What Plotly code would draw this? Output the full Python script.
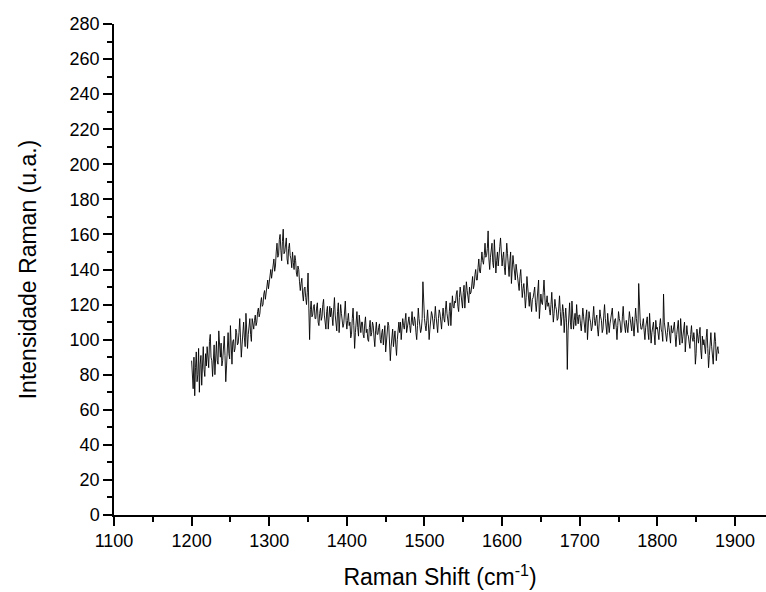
import plotly.graph_objects as go

x_start = 1200
x_step = 1
intensity = [
    88, 82, 72, 90, 68, 84, 93, 76, 80, 95, 70, 86, 91, 74, 88, 96, 83, 79, 92, 85,
    96, 87, 84, 99, 103, 90, 88, 79, 92, 97, 80, 94, 99, 88, 86, 105, 93, 90, 98, 85,
    88, 97, 102, 91, 76, 85, 97, 104, 92, 89, 108, 95, 86, 99, 100, 93, 95, 106, 104, 97,
    98, 104, 112, 101, 90, 97, 106, 110, 101, 96, 115, 104, 95, 103, 108, 112, 103, 99, 112, 107,
    106, 111, 114, 108, 110, 116, 118, 113, 115, 121, 124, 119, 120, 126, 128, 123, 126, 131, 134, 129,
    132, 137, 140, 135, 138, 143, 146, 139, 142, 150, 155, 147, 148, 157, 160, 151, 145, 156, 163, 149,
    150, 154, 158, 146, 143, 152, 155, 148, 146, 141, 150, 144, 140, 148, 145, 138, 136, 142, 140, 133,
    128, 132, 135, 126, 122, 129, 130, 124, 120, 127, 138, 118, 100, 117, 122, 113, 114, 119, 120, 112,
    112, 118, 121, 110, 108, 115, 118, 111, 113, 120, 123, 114, 110, 106, 116, 119, 106, 111, 119, 113,
    118, 113, 108, 117, 124, 114, 110, 105, 116, 121, 104, 112, 120, 115, 112, 107, 109, 116, 122, 111,
    106, 111, 115, 108, 110, 101, 103, 112, 118, 108, 95, 104, 112, 116, 107, 102, 114, 108, 104, 110,
    110, 103, 101, 109, 113, 104, 106, 100, 99, 107, 111, 102, 104, 110, 108, 101, 96, 105, 110, 103,
    103, 107, 109, 100, 98, 104, 106, 97, 101, 108, 93, 99, 104, 110, 108, 100, 88, 96, 102, 106,
    96, 103, 105, 97, 91, 100, 107, 110, 104, 110, 100, 106, 112, 108, 106, 111, 115, 104, 108, 112,
    113, 108, 104, 110, 116, 109, 108, 113, 111, 104, 100, 108, 118, 112, 109, 104, 106, 112, 133, 115,
    112, 108, 105, 111, 117, 109, 100, 106, 110, 116, 114, 108, 106, 112, 119, 113, 108, 104, 112, 117,
    115, 110, 106, 113, 118, 112, 110, 117, 122, 115, 112, 108, 116, 121, 108, 114, 125, 119, 118, 122,
    121, 126, 128, 119, 116, 124, 130, 126, 122, 118, 127, 131, 118, 124, 133, 128, 125, 121, 130, 126,
    127, 132, 136, 129, 131, 137, 140, 134, 134, 141, 146, 139, 138, 144, 150, 145, 143, 148, 155, 147,
    148, 152, 162, 146, 140, 147, 152, 155, 144, 141, 157, 150, 138, 145, 150, 142, 146, 153, 158, 148,
    142, 147, 150, 141, 137, 146, 155, 149, 140, 136, 145, 150, 132, 140, 148, 143, 138, 134, 143, 139,
    135, 131, 128, 136, 140, 132, 124, 129, 132, 126, 118, 124, 136, 130, 122, 119, 127, 121, 116, 123,
    124, 127, 130, 121, 116, 122, 128, 134, 112, 118, 126, 121, 120, 127, 134, 125, 117, 121, 125, 119,
    121, 117, 114, 120, 127, 118, 110, 115, 123, 119, 117, 111, 112, 118, 125, 116, 108, 113, 120, 116,
    104, 112, 118, 110, 83, 105, 116, 121, 110, 106, 122, 115, 106, 111, 115, 108, 120, 113, 109, 114,
    114, 109, 105, 111, 118, 113, 109, 104, 113, 117, 100, 108, 116, 112, 110, 105, 107, 113, 119, 111,
    108, 112, 114, 106, 102, 109, 117, 113, 111, 104, 106, 114, 120, 112, 108, 103, 115, 110, 104, 109,
    113, 116, 118, 110, 106, 111, 112, 107, 100, 108, 116, 112, 110, 104, 105, 113, 119, 111, 108, 104,
    111, 107, 104, 110, 116, 112, 109, 105, 113, 108, 102, 110, 118, 112, 108, 104, 132, 115, 110, 106,
    106, 109, 112, 105, 100, 107, 110, 113, 104, 100, 115, 108, 98, 104, 108, 110, 103, 97, 111, 106,
    107, 103, 100, 108, 112, 106, 104, 99, 126, 110, 106, 101, 99, 104, 110, 107, 103, 98, 108, 104,
    104, 108, 110, 102, 96, 103, 107, 111, 101, 97, 112, 105, 98, 102, 106, 110, 93, 99, 108, 103,
    102, 98, 95, 103, 108, 101, 99, 104, 100, 86, 92, 106, 101, 98, 103, 107, 94, 89, 102, 97,
    100, 96, 92, 101, 106, 95, 84, 91, 101, 104, 96, 90, 86, 97, 104, 99, 88, 94, 96, 92,
]
raman_shift = [x_start + i * x_step for i in range(len(intensity))]

x_ticks = [1100, 1200, 1300, 1400, 1500, 1600, 1700, 1800, 1900]
y_ticks = list(range(0, 281, 20))

fig = go.Figure()
fig.add_trace(go.Scatter(x=raman_shift, y=intensity, mode="lines",
                         line=dict(color="black", width=0.9), showlegend=False))

font_family = "Liberation Sans, Arial, sans-serif"
fig.update_layout(
    width=766, height=592,
    margin=dict(l=114, r=0, t=24, b=77),
    plot_bgcolor="white", paper_bgcolor="white",
    font=dict(family=font_family, color="black", size=18),
    xaxis=dict(
        range=[1100, 1940], tickvals=x_ticks, showgrid=False, zeroline=False,
        showline=True, linecolor="black", linewidth=1.5,
        ticks="outside", ticklen=9, tickwidth=1.5, tickcolor="black",
        minor=dict(dtick=50, tick0=1100, ticks="outside", ticklen=5, tickwidth=1.5, tickcolor="black", showgrid=False),
        tickfont=dict(size=18),
        title=dict(text="Raman Shift (cm<sup>-1</sup>)", font=dict(size=23), standoff=19),
    ),
    yaxis=dict(
        range=[0, 280], tickvals=y_ticks, showgrid=False, zeroline=False,
        showline=True, linecolor="black", linewidth=1.5,
        ticks="outside", ticklen=9, tickwidth=1.5, tickcolor="black",
        minor=dict(dtick=10, tick0=0, ticks="outside", ticklen=5, tickwidth=1.5, tickcolor="black", showgrid=False),
        tickfont=dict(size=18),
        title=dict(text="Intensidade Raman (u.a.)", font=dict(size=23), standoff=27),
    ),
)

fig.write_html("out.html")
